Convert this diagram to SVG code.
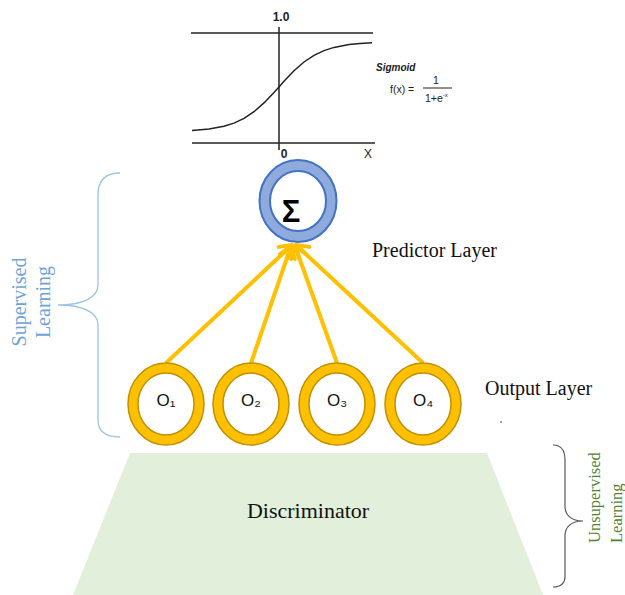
<svg xmlns="http://www.w3.org/2000/svg" width="625" height="595" viewBox="0 0 625 595">
  <style>
    .serif { font-family: "Liberation Serif", "Times New Roman", serif; }
    .sans { font-family: "Liberation Sans", Arial, sans-serif; }
    .axis { stroke: #222; stroke-width: 1.5; fill: none; }
    .gold-outer { fill: #FFC000; stroke: #BF9000; stroke-width: 1.5; }
    .gold-inner { fill: #FFFFFF; stroke: #BF9000; stroke-width: 1.5; }
    .blue-outer { fill: #8FAADC; stroke: #4472C4; stroke-width: 2; }
    .blue-inner { fill: #FFFFFF; stroke: #4472C4; stroke-width: 2; }
    .conn { stroke: #FFC000; stroke-width: 4; fill: none; marker-end: url(#arrow); }
    .olabel { font-family: "Liberation Sans", "DejaVu Sans", sans-serif; font-size: 17px; fill: #111; text-anchor: middle; }
    .layer { font-family: "Liberation Serif", "Times New Roman", serif; font-size: 20px; fill: #111; }
  </style>
  <defs>
    <marker id="arrow" markerUnits="userSpaceOnUse" markerWidth="20" markerHeight="20" viewBox="-13 -9 16 18" refX="0" refY="0" orient="auto">
      <path d="M-10,-7 L0,0 L-10,7" stroke="#FFC000" stroke-width="3.5" fill="none" stroke-linecap="round" stroke-linejoin="round"/>
    </marker>
  </defs>
  <rect width="625" height="595" fill="#FFFFFF"/>

  <!-- Sigmoid plot -->
  <g id="sigmoid-plot">
    <line class="axis" x1="191" y1="33" x2="373" y2="33"/>
    <line class="axis" x1="192" y1="143" x2="375" y2="143"/>
    <line class="axis" x1="279" y1="27" x2="279" y2="150"/>
    <polyline class="axis" points="192,130.6 209,129.1 224,126.3 234,123.1 244,118.4 254,111.7 264,102.9 274,92.4 279,86.9 284,81.3 294,70.8 304,62.0 314,55.3 324,50.6 334,47.4 349,44.6 360,43.4 372,42.8"/>
    <text class="sans" x="281" y="21" font-size="12" font-weight="bold" text-anchor="middle" fill="#222">1.0</text>
    <text class="sans" x="284" y="158" font-size="12" font-weight="bold" text-anchor="middle" fill="#222">0</text>
    <text class="sans" x="368" y="158" font-size="12" text-anchor="middle" fill="#222">X</text>
    <text class="sans" x="376" y="71" font-size="10" font-weight="bold" font-style="italic" fill="#222">Sigmoid</text>
    <text class="sans" x="390" y="93" font-size="10.5" fill="#222">f(x) =</text>
    <text class="sans" x="436" y="84" font-size="10.5" text-anchor="middle" fill="#222">1</text>
    <line x1="423" y1="88" x2="452" y2="88" stroke="#222" stroke-width="1"/>
    <text class="sans" x="425" y="102" font-size="10.5" fill="#222">1+e<tspan font-size="6" dy="-5">-x</tspan></text>
  </g>

  <!-- Connectors -->
  <g id="connectors">
    <line class="conn" x1="166" y1="363" x2="292" y2="245"/>
    <line class="conn" x1="251" y1="363" x2="291" y2="246"/>
    <line class="conn" x1="337" y1="363" x2="295" y2="246"/>
    <line class="conn" x1="423" y1="363" x2="296" y2="245"/>
  </g>

  <!-- Predictor node -->
  <g id="node-sigma">
    <ellipse class="blue-outer" cx="298" cy="201" rx="38.5" ry="41"/>
    <ellipse class="blue-inner" cx="298" cy="201" rx="28" ry="30"/>
    <text class="sans" x="291" y="222" font-size="31" font-weight="bold" text-anchor="middle" fill="#000">Σ</text>
  </g>

  <!-- Output nodes -->
  <g id="node-o1">
    <ellipse class="gold-outer" cx="166" cy="404" rx="38" ry="41"/>
    <ellipse class="gold-inner" cx="166" cy="404" rx="28" ry="31"/>
    <text class="olabel" x="166" y="406">O₁</text>
  </g>
  <g id="node-o2">
    <ellipse class="gold-outer" cx="251" cy="404" rx="38" ry="41"/>
    <ellipse class="gold-inner" cx="251" cy="404" rx="28" ry="31"/>
    <text class="olabel" x="251" y="406">O₂</text>
  </g>
  <g id="node-o3">
    <ellipse class="gold-outer" cx="337" cy="404" rx="38" ry="41"/>
    <ellipse class="gold-inner" cx="337" cy="404" rx="28" ry="31"/>
    <text class="olabel" x="337" y="406">O₃</text>
  </g>
  <g id="node-o4">
    <ellipse class="gold-outer" cx="423" cy="404" rx="38" ry="41"/>
    <ellipse class="gold-inner" cx="423" cy="404" rx="28" ry="31"/>
    <text class="olabel" x="423" y="406">O₄</text>
  </g>

  <!-- Layer labels -->
  <text class="layer" x="372" y="257">Predictor Layer</text>
  <text class="layer" x="485" y="395">Output Layer</text>
  <circle cx="501" cy="422" r="0.9" fill="#777"/>

  <!-- Discriminator -->
  <g id="node-discriminator">
    <polygon points="130,453 487,453 543,595 73,595" fill="#E2EFDA"/>
    <text class="serif" x="308" y="518" font-size="22" text-anchor="middle" fill="#111">Discriminator</text>
  </g>

  <!-- Supervised brace -->
  <g id="brace-supervised">
    <path d="M120,173 C105,173 98,180 98,195 L98,285 C98,298 82,305 58,305 C82,305 98,312 98,325 L98,420 C98,431 105,437 120,437" fill="none" stroke="#9DC3E6" stroke-width="1.3"/>
    <text class="serif" transform="translate(26,302) rotate(-90)" font-size="20" text-anchor="middle" fill="#6FA3D8">Supervised</text>
    <text class="serif" transform="translate(50,302) rotate(-90)" font-size="20" text-anchor="middle" fill="#6FA3D8">Learning</text>
  </g>

  <!-- Unsupervised brace -->
  <g id="brace-unsupervised">
    <path d="M553,445 C561,445 565,450 565,460 L565,506 C565,515 571,521 583,521 C571,521 565,527 565,536 L565,576 C565,583 561,587 553,587" fill="none" stroke="#595959" stroke-width="1.2"/>
    <text class="serif" transform="translate(600,543) rotate(-90)" font-size="16.5" fill="#548235">Unsupervised</text>
    <text class="serif" transform="translate(622,543) rotate(-90)" font-size="16.5" fill="#548235">Learning</text>
  </g>
</svg>
